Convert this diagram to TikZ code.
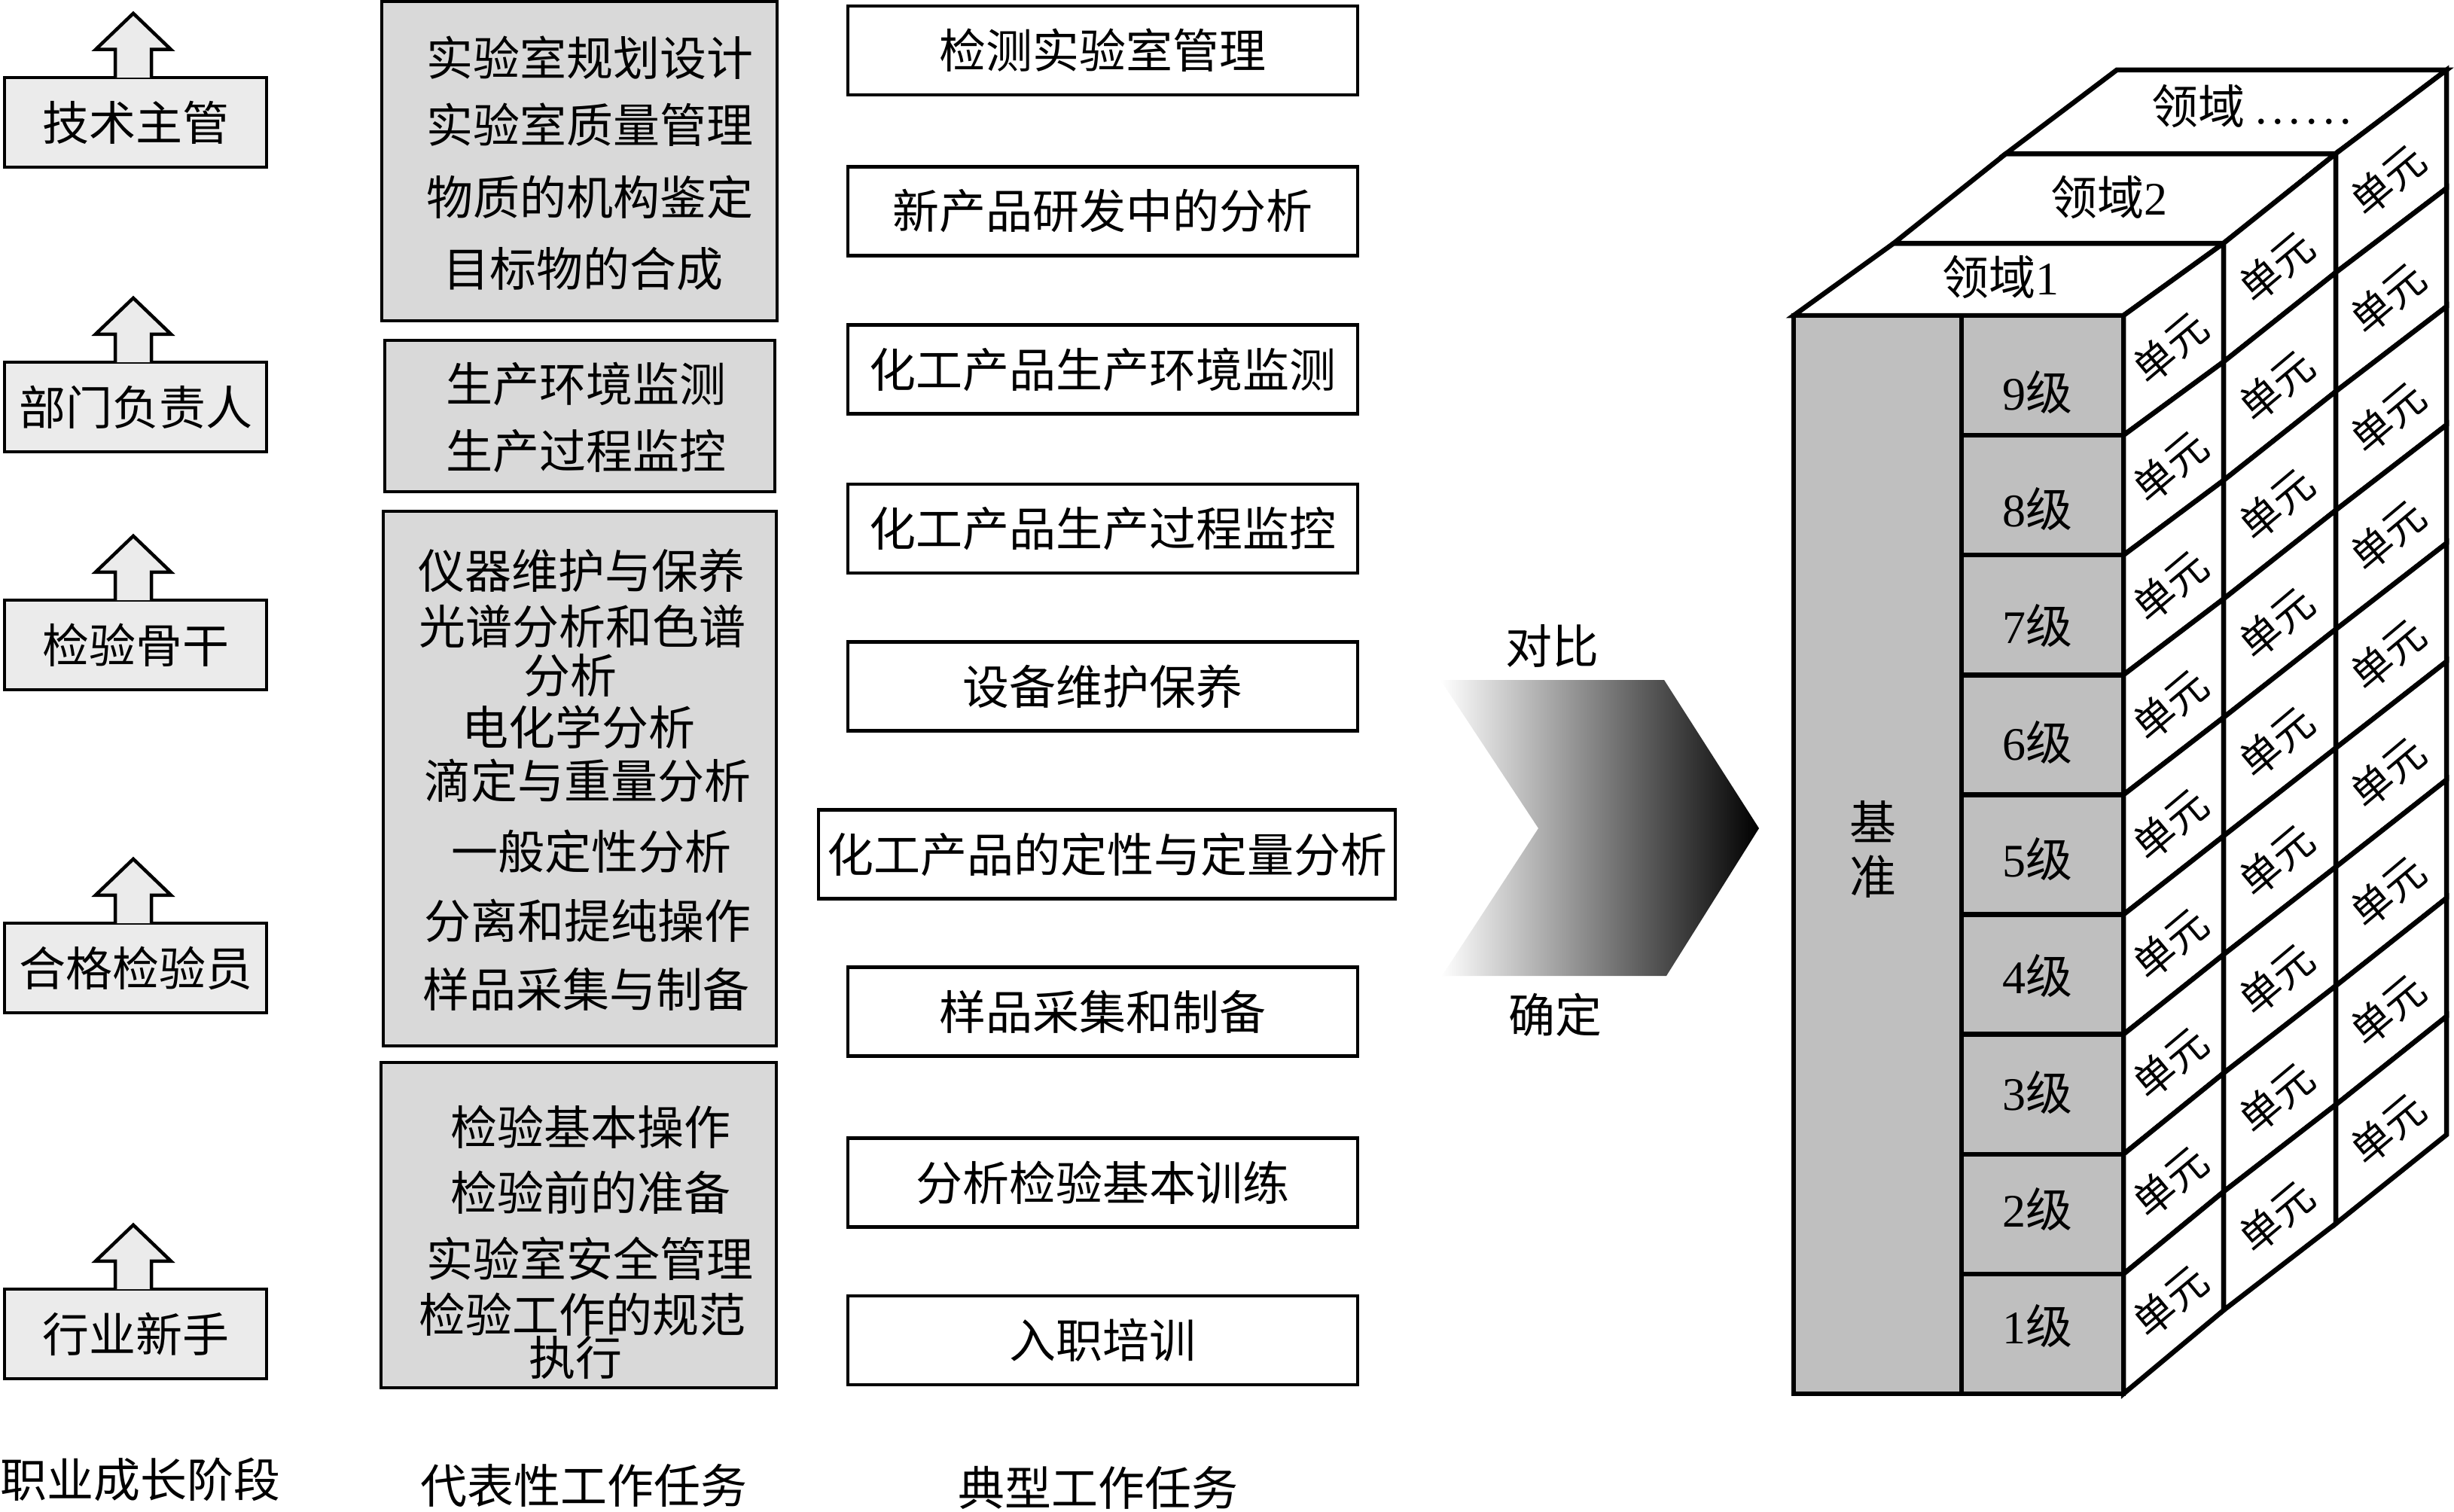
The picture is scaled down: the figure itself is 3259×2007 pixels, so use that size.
\documentclass[tikz,border=0pt]{standalone}
\usepackage{fontspec}
\newfontfamily\cjk{Noto Sans CJK SC}
\newfontfamily\lat{Liberation Serif}
\usetikzlibrary{calc}
\definecolor{stagefill}{gray}{0.92}
\definecolor{taskfill}{gray}{0.85}
\definecolor{cubefill}{gray}{0.75}
\newcommand\bigf{\cjk\fontsize{62pt}{74pt}\selectfont}
\newcommand\unitf{\cjk\fontsize{55pt}{62pt}\selectfont}
\newcommand\stagearrow[1]{%
  \fill[stagefill] ([xshift=-27pt,yshift=-2.3pt]#1.north) -- ++(0,-37.3) -- ++(-26,0) -- ++(50,-48) -- ++(50,48) -- ++(-26,0) -- ++(0,37.3) -- cycle;
  \draw[line width=4.5pt] ([xshift=-27pt,yshift=-2.3pt]#1.north) -- ++(0,-37.3) -- ++(-26,0) -- ++(50,-48) -- ++(50,48) -- ++(-26,0) -- ++(0,37.3);}
\begin{document}
\begin{tikzpicture}[x=1pt,y=-1pt,
  stagebox/.style={draw, line width=4.5pt, fill=stagefill, minimum width=348pt, minimum height=119pt, inner sep=0pt, font=\bigf},
  taskbox/.style={draw, line width=4.5pt, fill=taskfill, inner sep=0pt},
  typbox/.style={draw, line width=4.5pt, fill=white, minimum width=677pt, minimum height=118pt, inner sep=0pt, font=\bigf},
  txt/.style={inner sep=0pt, font=\bigf},
  unit/.style={inner sep=0pt, font=\unitf, rotate=40},
  cubeline/.style={line width=6.5pt}]
\useasboundingbox (0,0) rectangle (3259,2007);
\fill[white] (0,0) rectangle (3259,2007);

% career stages
\node[stagebox] (s1) at (180,162.5) {技术主管};
\node[stagebox] (s2) at (180,540.5) {部门负责人};
\node[stagebox] (s3) at (180,856.5) {检验骨干};
\node[stagebox] (s4) at (180,1285.5) {合格检验员};
\node[stagebox] (s5) at (180,1771.5) {行业新手};
\stagearrow{s1}\stagearrow{s2}\stagearrow{s3}\stagearrow{s4}\stagearrow{s5}

% representative tasks
\node[taskbox, minimum width=525pt, minimum height=424pt] (g1) at (769.5,214) {};
\node[taskbox, minimum width=518pt, minimum height=201pt] (g2) at (770,552.5) {};
\node[taskbox, minimum width=522pt, minimum height=710pt] (g3) at (770,1034) {};
\node[taskbox, minimum width=525pt, minimum height=432pt] (g4) at (768.5,1627) {};
\node[txt] (g1a) at (783,77) {实验室规划设计};
\node[txt] (g1b) at (783,166) {实验室质量管理};
\node[txt] (g1c) at (783,262) {物质的机构鉴定};
\node[txt] (g1d) at (774,357) {目标物的合成};
\node[txt] (g2a) at (778,510) {生产环境监测};
\node[txt] (g2b) at (778,599) {生产过程监控};
\node[txt] (g3a) at (772,758) {仪器维护与保养};
\node[txt] (g3b) at (773,832) {光谱分析和色谱};
\node[txt] (g3c) at (757,897) {分析};
\node[txt] (g3d) at (768,966) {电化学分析};
\node[txt] (g3e) at (780,1037) {滴定与重量分析};
\node[txt] (g3f) at (785,1131) {一般定性分析};
\node[txt] (g3g) at (780,1223) {分离和提纯操作};
\node[txt] (g3h) at (778,1314) {样品采集与制备};
\node[txt] (g4a) at (784,1497) {检验基本操作};
\node[txt] (g4b) at (784,1584) {检验前的准备};
\node[txt] (g4c) at (783,1672) {实验室安全管理};
\node[txt] (g4d) at (773,1746) {检验工作的规范};
\node[txt] (g4e) at (764,1803) {执行};

% typical tasks
\node[typbox] (m1) at (1464.5,67) {检测实验室管理};
\node[typbox] (m2) at (1464.5,280.5) {新产品研发中的分析};
\node[typbox] (m3) at (1464.5,490.5) {化工产品生产环境监测};
\node[typbox] (m4) at (1464.5,702) {化工产品生产过程监控};
\node[typbox] (m5) at (1464.5,911.5) {设备维护保养};
\node[typbox, minimum width=766pt] (m6) at (1470,1134.5) {化工产品的定性与定量分析};
\node[typbox] (m7) at (1464.5,1343.5) {样品采集和制备};
\node[typbox] (m8) at (1464.5,1570.5) {分析检验基本训练};
\node[typbox] (m9) at (1464.5,1780) {入职培训};

% column captions
\node[txt] (l1) at (186,1965) {职业成长阶段};
\node[txt] (l2) at (775,1973) {代表性工作任务};
\node[txt] (l3) at (1458,1976) {典型工作任务};

% chevron
\shade[left color=white, right color=black] (1913,903) -- (2210,903) -- (2336,1100) -- (2213,1296) -- (1915,1296) -- (2043,1100) -- cycle;
\node[txt] (c1) at (2061,858) {对比};
\node[txt] (c2) at (2065,1348) {确定};

% cube coordinates
\foreach \k/\xx/\tt/\bb in {0/2820/419/1851, 1/2953/323/1740, 2/3102/204/1625, 3/3249/93/1507}{
  \foreach \j in {0,...,9}{
    \coordinate (p\k-\j) at (\xx,{\tt+\j*(\bb-\tt)/9});
  }
  \coordinate (q\k) at ({\xx-438},\tt);
}
% top strips
\foreach \k [evaluate=\k as \kk using int(\k+1)] in {0,1,2}{
  \draw[cubeline, fill=white] (q\k) -- (p\k-0) -- (p\kk-0) -- (q\kk) -- cycle;
}
\node[txt] (d1) at (2657,368) {领域{\lat 1}};
\node[txt] (d2) at (2801,262) {领域{\lat 2}};
\node[txt] (d3) at (2990,141) {领域\hspace{14pt}{\lat .\kern7pt.\kern7pt.\kern7pt.\kern7pt.\kern7pt.}};
% side cells
\foreach \k [evaluate=\k as \kk using int(\k+1)] in {0,1,2}{
  \foreach \j [evaluate=\j as \jj using int(\j+1)] in {0,...,8}{
    \draw[cubeline, fill=white] (p\k-\j) -- (p\kk-\j) -- (p\kk-\jj) -- (p\k-\jj) -- cycle;
    \node[unit] (u\k-\j) at ($(p\k-\j)!0.5!(p\kk-\jj)+(-4,12)$) {单元};
  }
}
% front face
\fill[cubefill] (2382,419) rectangle (2820,1851);
\foreach \j [evaluate=\j as \lv using int(9-\j)] in {0,...,8}{
  \node[txt] (lv\lv) at ({2706},{521+155*\j}) {{\lat \lv}级};
}
\foreach \j in {1,...,8}{
  \draw[cubeline] (2605,{419+159.111*\j}) -- (2820,{419+159.111*\j});
}
\draw[cubeline] (2605,419) -- (2605,1851);
\draw[cubeline] (2382,419) rectangle (2820,1851);
\node[txt] (b1) at (2487,1091) {基};
\node[txt] (b2) at (2487,1164) {准};
\end{tikzpicture}
\end{document}
